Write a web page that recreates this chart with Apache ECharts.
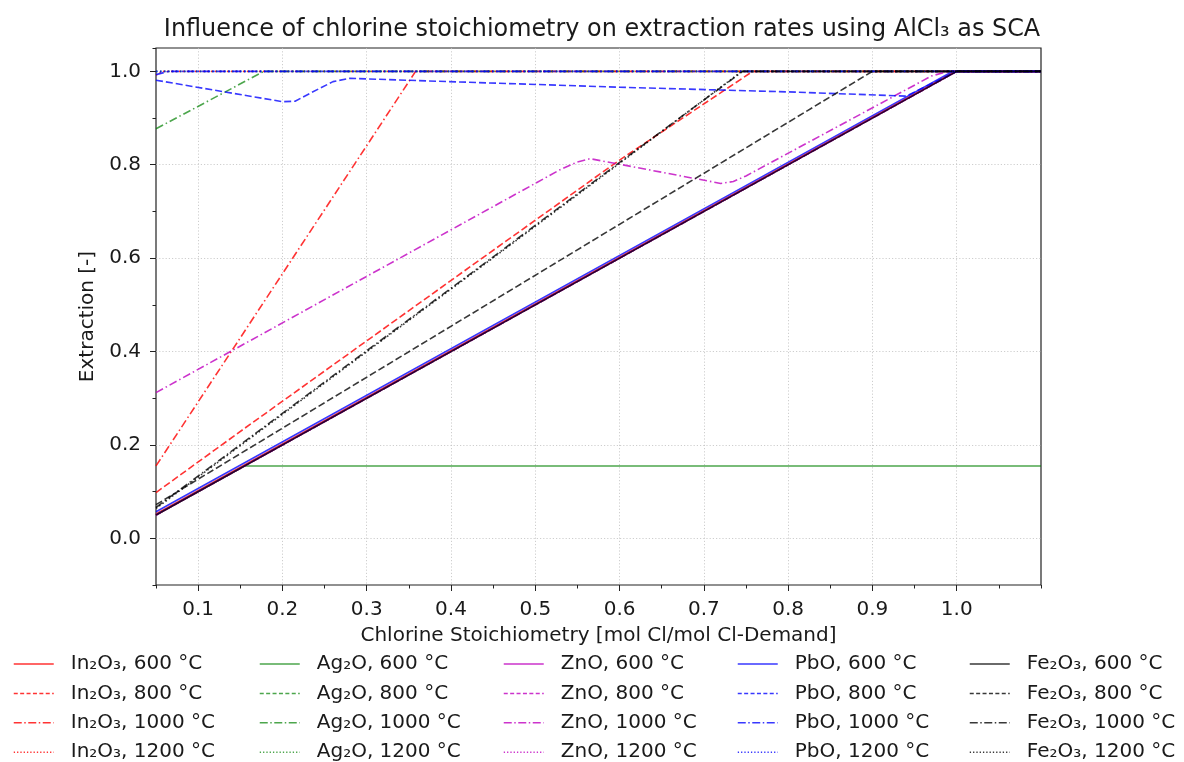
<!DOCTYPE html>
<html><head><meta charset="utf-8">
<script src="https://cdn.jsdelivr.net/npm/echarts@6/dist/echarts.min.js"></script>
<style>html,body{margin:0;padding:0;background:#fff}#c{width:1184px;height:762px}</style>
</head><body><div id="c"></div>
<script>
// ---------- texts & ticks ----------
const titleText = 'Influence of chlorine stoichiometry on extraction rates using AlCl\u2083 as SCA';
const xName = 'Chlorine Stoichiometry [mol Cl/mol Cl-Demand]';
const yName = 'Extraction [-]';
const compounds = ['In\u2082O\u2083', 'Ag\u2082O', 'ZnO', 'PbO', 'Fe\u2082O\u2083'];
const temperatures = ['600 °C', '800 °C', '1000 °C', '1200 °C'];
const xTickValues = [0.1, 0.2, 0.3, 0.4, 0.5, 0.6, 0.7, 0.8, 0.9, 1.0];
const yTickValues = [0.0, 0.2, 0.4, 0.6, 0.8, 1.0];

// ---------- data: [stoichiometry, extraction] ----------
const in2o3_600  = [[0.05, 0.052], [0.998, 1.0], [1.1, 1.0]];
const in2o3_800  = [[0.05, 0.098], [0.154, 0.234], [0.437, 0.6], [0.6, 0.81], [0.758, 1.0], [1.1, 1.0]];
const in2o3_1000 = [[0.05, 0.155], [0.358, 1.0], [1.1, 1.0]];
const in2o3_1200 = [[0.05, 0.992], [0.058, 1.0], [1.1, 1.0]];

const ag2o_600  = [[0.05, 0.05], [0.155, 0.155], [1.1, 0.155]];
const ag2o_800  = [[0.05, 0.05], [1.0, 1.0], [1.1, 1.0]];
const ag2o_1000 = [[0.05, 0.877], [0.178, 1.0], [1.1, 1.0]];
const ag2o_1200 = [[0.05, 1.0], [1.1, 1.0]];

const zno_600  = [[0.05, 0.05], [1.0, 1.0], [1.1, 1.0]];
const zno_800  = [[0.05, 0.05], [1.0, 1.0], [1.1, 1.0]];
const zno_1000 = [[0.05, 0.312], [0.53, 0.79], [0.55, 0.806], [0.565, 0.813], [0.72, 0.76],
                  [0.735, 0.764], [0.75, 0.776], [0.97, 0.99], [0.99, 1.0], [1.1, 1.0]];
const zno_1200 = [[0.05, 0.05], [1.0, 1.0], [1.1, 1.0]];

const pbo_600  = [[0.05, 0.057], [0.995, 1.0], [1.1, 1.0]];
const pbo_800  = [[0.05, 0.981], [0.2, 0.935], [0.215, 0.936], [0.235, 0.955], [0.26, 0.978],
                  [0.28, 0.985], [0.6, 0.966], [0.8, 0.956], [0.94, 0.947], [1.0, 1.0], [1.1, 1.0]];
const pbo_1000 = [[0.05, 0.993], [0.065, 1.0], [1.1, 1.0]];
const pbo_1200 = [[0.05, 1.0], [1.1, 1.0]];

const fe2o3_600  = [[0.05, 0.05], [1.0, 1.0], [1.1, 1.0]];
const fe2o3_800  = [[0.05, 0.072], [0.9, 1.0], [1.1, 1.0]];
const fe2o3_1000 = [[0.05, 0.066], [0.178, 0.238], [0.448, 0.6], [0.6, 0.805], [0.746, 1.0], [1.1, 1.0]];
const fe2o3_1200 = [[0.05, 0.064], [0.178, 0.236], [0.448, 0.598], [0.6, 0.803], [0.745, 1.0], [1.1, 1.0]];

const seriesTable = [
  [in2o3_600, in2o3_800, in2o3_1000, in2o3_1200],
  [ag2o_600, ag2o_800, ag2o_1000, ag2o_1200],
  [zno_600, zno_800, zno_1000, zno_1200],
  [pbo_600, pbo_800, pbo_1000, pbo_1200],
  [fe2o3_600, fe2o3_800, fe2o3_1000, fe2o3_1200]
];

// ---------- styles ----------
const colors = ['rgba(255,0,0,0.8)', 'rgba(0,128,0,0.7)', 'rgba(191,0,191,0.8)', 'rgba(0,0,255,0.78)', 'rgba(0,0,0,0.78)'];
const plotDash = ['solid', [7, 3], [8, 3, 1.5, 3], [1.5, 2.5]];
const legendDash = ['solid', [4, 2.4], [8, 2.5, 1.5, 2.5], [1.3, 2]];
const legendLeft = [13, 259, 503, 737, 969];
const FONT = 'DejaVu Sans';
const TXT = '#1a1a1a';
const FS = 20;

const series = [];
const legends = [];
compounds.forEach((c, ci) => {
  const items = [];
  temperatures.forEach((t, ti) => {
    const name = c + ', ' + t;
    series.push({
      type: 'line', name: name, data: seriesTable[ci][ti],
      xAxisIndex: 0, yAxisIndex: 0,
      showSymbol: false, symbol: 'none', silent: true, animation: false,
      itemStyle: { color: colors[ci] },
      lineStyle: { color: colors[ci], width: 1.6, type: plotDash[ti] }
    });
    items.push({ name: name, lineStyle: { color: colors[ci], type: legendDash[ti], width: 1.5 } });
  });
  legends.push({
    orient: 'vertical', left: legendLeft[ci], top: 654, height: 200, padding: 0,
    itemWidth: 40, itemHeight: 14, itemGap: 9.4,
    selectedMode: false,
    itemStyle: { opacity: 0 },
    data: items,
    textStyle: { fontSize: FS, fontFamily: FONT, color: TXT, padding: [0, 0, 0, 12] }
  });
});

const tickColor = '#222';
const chart = echarts.init(document.getElementById('c'), null, { renderer: 'canvas' });
chart.setOption({
  animation: false,
  backgroundColor: '#fff',
  title: {
    text: titleText, left: 597, top: 13, textAlign: 'center',
    textStyle: { fontSize: 23.9, fontWeight: 'normal', fontFamily: FONT, color: TXT }
  },
  grid: {
    left: 156, top: 48, right: 143, bottom: 177,
    show: true, borderColor: '#222', borderWidth: 1.2, backgroundColor: 'transparent',
    containLabel: false, outerBoundsMode: 'none'
  },
  legend: legends,
  xAxis: [
    {
      type: 'value', min: 0.05, max: 1.1, interval: 0.05, position: 'bottom',
      name: xName, nameLocation: 'middle', nameGap: 41,
      nameTextStyle: { fontSize: FS, fontFamily: FONT, color: TXT },
      axisLine: { show: false, onZero: false },
      axisTick: { show: true, length: 6, customValues: xTickValues, lineStyle: { color: tickColor, width: 1 } },
      axisLabel: { customValues: xTickValues, formatter: v => v.toFixed(1), fontSize: FS, fontFamily: FONT, color: TXT, margin: 15 },
      splitLine: { show: true, lineStyle: { type: [1.2, 2], color: '#c2c2c2', width: 0.8 } }
    },
    {
      type: 'value', min: 0.05, max: 1.1, interval: 0.05, position: 'bottom',
      axisLine: { show: false, onZero: false },
      axisTick: { show: true, length: 3.5, lineStyle: { color: tickColor, width: 1 } },
      axisLabel: { show: false }, splitLine: { show: false }
    }
  ],
  yAxis: [
    {
      type: 'value', min: -0.1, max: 1.05, interval: 0.1, position: 'left',
      name: yName, nameLocation: 'middle', nameGap: 52,
      nameTextStyle: { fontSize: FS, fontFamily: FONT, color: TXT },
      axisLine: { show: false, onZero: false },
      axisTick: { show: true, length: 6, customValues: yTickValues, lineStyle: { color: tickColor, width: 1 } },
      axisLabel: { customValues: yTickValues, formatter: v => v.toFixed(1), fontSize: FS, fontFamily: FONT, color: TXT, margin: 15 },
      splitLine: { show: true, lineStyle: { type: [1.2, 2], color: '#c2c2c2', width: 0.8 } }
    },
    {
      type: 'value', min: -0.1, max: 1.05, interval: 0.1, position: 'left',
      axisLine: { show: false, onZero: false },
      axisTick: { show: true, length: 3.5, lineStyle: { color: tickColor, width: 1 } },
      axisLabel: { show: false }, splitLine: { show: false }
    }
  ],
  series: series
});
</script></body></html>
